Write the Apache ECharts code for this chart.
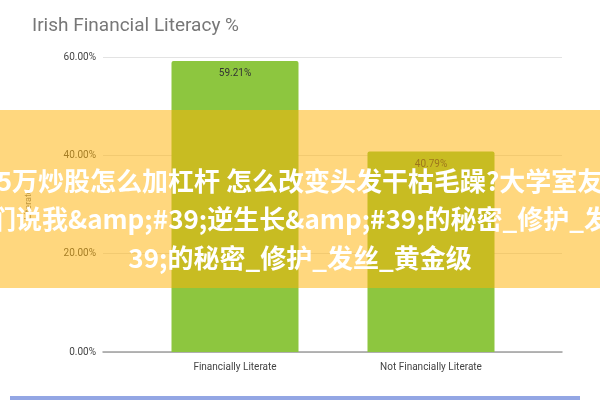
<!DOCTYPE html>
<html>
<head>
<meta charset="utf-8">
<script src="https://cdn.jsdelivr.net/npm/echarts@6/dist/echarts.min.js"></script>
<style>
html,body{margin:0;padding:0;background:#fff;}
#c{width:600px;height:400px;}
</style>
</head>
<body>
<div id="c"></div>
<script>
const chartTitle = 'Irish Financial Literacy %';
const categories = ['Financially Literate', 'Not Financially Literate'];
const literacyValues = [59.21, 40.79];
const yAxisName = 'Literate';
const yMin = 0, yMax = 60, yInterval = 20;
const captionLines = [
  '5万炒股怎么加杠杆 怎么改变头发干枯毛躁?大学室友',
  '们说我&amp;#39;逆生长&amp;#39;的秘密_修护_发',
  '39;的秘密_修护_发丝_黄金级'
];

const pct = v => v.toFixed(2) + '%';
const chart = echarts.init(document.getElementById('c'));
const captionY = [181, 219, 258];

chart.setOption({
  animation: false,
  backgroundColor: '#ffffff',
  title: {
    text: chartTitle, left: 27, top: 12,
    textStyle: { fontFamily: 'Roboto', fontSize: 19, fontWeight: 'normal', color: '#777777' }
  },
  grid: [
    { left: 103, right: 38, top: 57, bottom: 48 },
    { left: 137, right: 71, top: 57, bottom: 48 }
  ],
  xAxis: [
    { gridIndex: 0, type: 'value', min: 0, max: 1,
      axisLine: { show: true, lineStyle: { color: '#9e9e9e', width: 1.5 } },
      axisTick: { show: false }, axisLabel: { show: false }, splitLine: { show: false } },
    { gridIndex: 1, type: 'category', data: categories,
      axisLine: { show: false }, axisTick: { show: false },
      axisLabel: { margin: 10, fontFamily: 'Roboto', fontSize: 10, color: '#444444' } }
  ],
  yAxis: [
    { gridIndex: 0, type: 'value', min: yMin, max: yMax, interval: yInterval,
      name: yAxisName, nameLocation: 'middle', nameGap: 70, nameRotate: 90,
      nameTextStyle: { fontFamily: 'Roboto', fontSize: 9, color: '#777777' },
      axisLine: { show: false }, axisTick: { show: false },
      axisLabel: { formatter: pct, margin: 7, fontFamily: 'Roboto', fontSize: 10, color: '#444444' },
      splitLine: { lineStyle: { color: '#e3e3e3', width: 1 } } },
    { gridIndex: 1, type: 'value', min: yMin, max: yMax, interval: yInterval, show: false }
  ],
  series: [{
    type: 'bar', xAxisIndex: 1, yAxisIndex: 1,
    data: literacyValues, barWidth: 127,
    itemStyle: { color: '#8dc63f', borderRadius: [2, 2, 0, 0] },
    label: { show: true, position: 'insideTop', distance: 8, formatter: p => pct(p.value),
      fontFamily: 'Roboto', fontSize: 10, color: '#333333' }
  }],
  graphic: [
    { type: 'rect', z: 100, shape: { x: 0, y: 110, width: 600, height: 178 },
      style: { fill: 'rgba(255,178,8,0.52)' } },
    ...captionLines.map((t, i) => ({
      type: 'text', z: 101,
      style: { text: t, x: 300, y: captionY[i], align: 'center', verticalAlign: 'middle',
        fill: '#ffffff', fontSize: 26, fontWeight: 'bold', fontFamily: '"Noto Sans CJK SC"' }
    })),
    { type: 'rect', z: 100, shape: { x: 10, y: 396, width: 570, height: 4 },
      style: { fill: '#93a6e4' } }
  ]
});
</script>
</body>
</html>
